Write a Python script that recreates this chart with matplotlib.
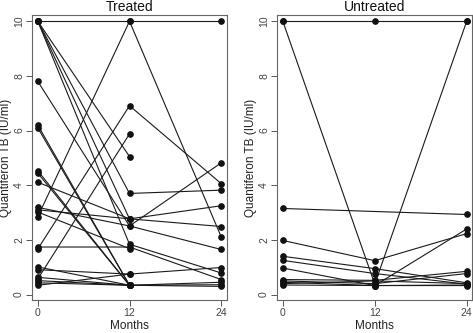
import numpy as np
import matplotlib
matplotlib.use("Agg")
import matplotlib.pyplot as plt

plt.rcParams['font.family'] = ['Liberation Sans', 'DejaVu Sans']

# === Data (Quantiferon TB, IU/ml) at months 0, 12, 24; nan = not measured ===
months = [0, 12, 24]

treated_m0 = [10, 10, 10, 10, 10, 7.8, 6.2, 6.1, 4.53, 4.44, 4.11, 3.19, 3.10, 3.02,
              2.85, 1.74, 1.67, 1.01, 0.91, 0.63, 0.57, 0.51, 0.43, 0.34]
treated_m12 = [10, 5.05, 3.70, 2.77, 1.84, 2.51, 0.34, 0.34, 0.34, 0.34, 2.77, 2.51, 2.77, 1.68,
               10, 1.74, 6.91, 0.34, 0.75, 0.34, 5.88, 0.34, 0.34, 0.75]
treated_m24 = [10, np.nan, 3.82, 3.25, 0.79, 4.82, 0.36, 0.30, 0.45, np.nan, 2.49, 1.65, np.nan, np.nan,
               2.11, 0.55, 4.06, np.nan, 0.99, np.nan, np.nan, np.nan, np.nan, np.nan]

untreated_m0 = [10, 10, 3.15, 1.98, 1.40, 1.25, 0.97, 0.55, 0.50, 0.45, 0.40, 0.35]
untreated_m12 = [10, 0.38, np.nan, 1.24, 0.95, 0.77, 0.33, 0.52, 0.40, 0.33, 0.50, 0.33]
untreated_m24 = [10, 10, 2.93, 2.23, 0.43, 0.38, 2.40, 0.85, 0.77, 0.35, 0.40, 0.33]

panels = [
    ("Treated", treated_m0, treated_m12, treated_m24, [0.067, 0.099, 0.412, 0.856]),
    ("Untreated", untreated_m0, untreated_m12, untreated_m24, [0.585, 0.099, 0.413, 0.856]),
]

fig = plt.figure(figsize=(4.73, 3.33), dpi=100)

for title, m0, m12, m24, rect in panels:
    ax = fig.add_axes(rect)
    for a, b, c in zip(m0, m12, m24):
        vals = np.array([a, b, c], dtype=float)
        x = np.array(months, dtype=float)
        ok = ~np.isnan(vals)
        ax.plot(x[ok], vals[ok], color='#1a1a1a', lw=0.8, marker='o', ms=3.8,
                mfc='#111111', mec='#111111')
    ax.set_xlim(-0.8, 24.7)
    ax.set_ylim(-0.2, 10.23)
    ax.set_xticks(months)
    ax.set_yticks([0, 2, 4, 6, 8, 10])
    ax.tick_params(axis='both', direction='out', length=4, width=0.7,
                   colors='#555555', labelcolor='#444444', labelsize=7.5, pad=2)
    ax.tick_params(axis='y', pad=1.5)
    for lbl in ax.get_yticklabels():
        lbl.set_rotation(90)
        lbl.set_va('center')
    for sp in ax.spines.values():
        sp.set_color('#666666')
        sp.set_linewidth(0.8)
    ax.set_title(title, fontsize=10, pad=3, color='#111111')
    ax.set_xlabel("Months", fontsize=8.5, labelpad=1.5, color='#222222')
    ax.set_ylabel("Quantiferon TB (IU/ml)", fontsize=8.5, labelpad=1.5, color='#222222')

fig.savefig("out.png", dpi=100)
